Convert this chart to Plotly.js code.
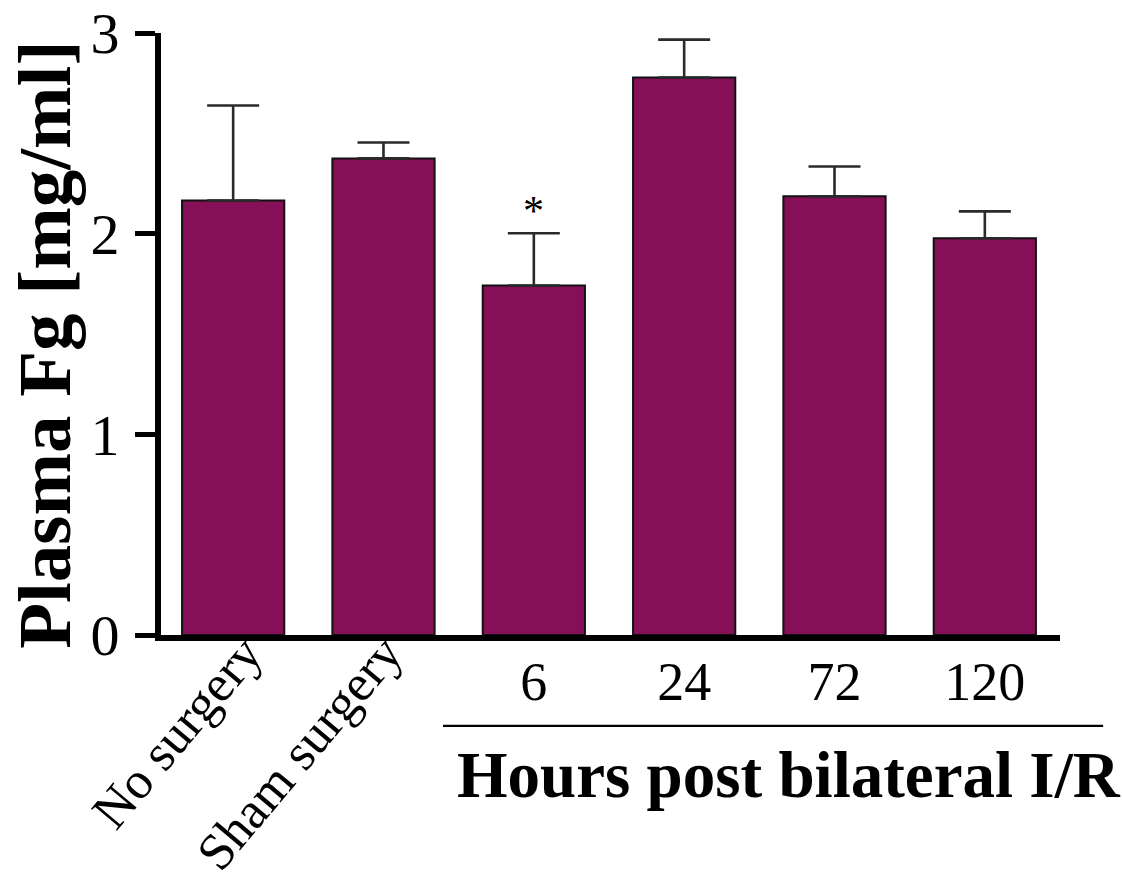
<!DOCTYPE html>
<html>
<head>
<meta charset="utf-8">
<script src="https://cdn.plot.ly/plotly-3.0.1.min.js"></script>
<style>html,body{margin:0;padding:0;background:#fff;}#chart{width:1122px;height:887px;}</style>
</head>
<body>
<div id="chart"></div>
<script>
// Data
const categories = ["No surgery", "Sham surgery", "6", "24", "72", "120"];
const tickLabels = ["", "", "6", "24", "72", "120"];
const meanFg = [2.165, 2.375, 1.742, 2.778, 2.186, 1.977];
const errUpper = [0.474, 0.079, 0.260, 0.189, 0.149, 0.134];
const errLower = [0, 0, 0, 0, 0, 0];
const yTicks = [0, 1, 2, 3];
const significant = ["6"];
const starHeight = [2.002];

const serif = '"Liberation Serif", "Times New Roman", Times, serif';
const barColor = '#861058';

const trace = {
  type: 'bar',
  x: categories,
  y: meanFg,
  marker: {color: barColor, line: {color: '#111', width: 2}},
  error_y: {
    type: 'data', symmetric: false,
    array: errUpper, arrayminus: errLower,
    color: '#2a2a2a', thickness: 2.6, width: 26
  },
  hoverinfo: 'skip'
};

const annotations = [
  {
    xref: 'x', yref: 'paper', x: 0, y: 0,
    text: categories[0], showarrow: false, textangle: -50, borderpad: 0,
    xanchor: 'right', yanchor: 'top', xshift: 42, yshift: 12,
    font: {family: serif, size: 52, color: '#000'}
  },
  {
    xref: 'x', yref: 'paper', x: 1, y: 0,
    text: categories[1], showarrow: false, textangle: -50, borderpad: 0,
    xanchor: 'right', yanchor: 'top', xshift: 31, yshift: 12,
    font: {family: serif, size: 52, color: '#000'}
  },
  {
    xref: 'paper', yref: 'paper', x: 0.698, y: -0.232,
    text: '<b>Hours post bilateral I/R</b>', showarrow: false,
    xanchor: 'center', yanchor: 'middle',
    font: {family: serif, size: 65, color: '#000'}
  },
  {
    xref: 'paper', yref: 'paper', x: 0, y: 0.482, xshift: -116, borderpad: 0,
    text: '<b>Plasma Fg [mg/ml]</b>', showarrow: false, textangle: -90,
    xanchor: 'center', yanchor: 'middle',
    font: {family: serif, size: 75, color: '#000'}
  }
];
significant.forEach((c, i) => {
  annotations.push({
    xref: 'x', yref: 'y', x: categories.indexOf(c), y: starHeight[i],
    text: '*', showarrow: false, xanchor: 'center', yanchor: 'middle', yshift: 22,
    font: {family: serif, size: 42, color: '#000'}
  });
});

const layout = {
  width: 1122, height: 887,
  margin: {l: 161, r: 62, t: 33, b: 252},
  paper_bgcolor: '#fff', plot_bgcolor: '#fff',
  showlegend: false,
  bargap: 0.32,
  font: {family: serif, color: '#000'},
  xaxis: {
    type: 'category', range: [-0.48, 5.5],
    tickmode: 'array', tickvals: categories, ticktext: tickLabels,
    ticks: '', showgrid: false, zeroline: false,
    showline: true, linecolor: '#000', linewidth: 6,
    tickfont: {family: serif, size: 54, color: '#000'},
    ticklabelstandoff: -6,
    fixedrange: true
  },
  yaxis: {
    range: [0, 3], tickmode: 'array', tickvals: yTicks,
    ticks: 'outside', ticklen: 20, tickwidth: 5, tickcolor: '#000',
    showgrid: false, zeroline: false,
    showline: true, linecolor: '#000', linewidth: 6,
    tickfont: {family: serif, size: 58, color: '#000'},
    ticklabelstandoff: 4,
    fixedrange: true
  },
  shapes: [
    {type: 'line', xref: 'paper', yref: 'paper', x0: 0.3137, x1: 1.048, y0: -0.151, y1: -0.151,
     line: {color: '#000', width: 2.2}}
  ],
  annotations: annotations
};

Plotly.newPlot('chart', [trace], layout, {displayModeBar: false, staticPlot: true});
</script>
</body>
</html>
